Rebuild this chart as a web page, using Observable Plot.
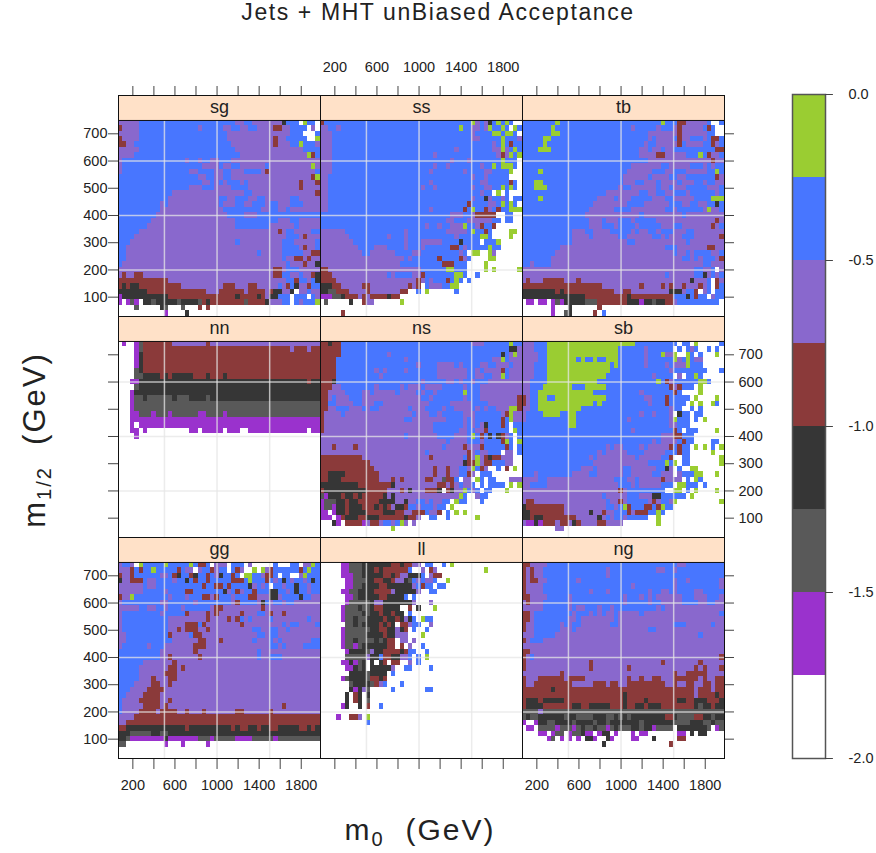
<!DOCTYPE html>
<html><head><meta charset="utf-8">
<script src="https://cdn.jsdelivr.net/npm/d3@7"></script>
<script src="https://cdn.jsdelivr.net/npm/@observablehq/plot@0.6"></script>
<style>
html,body{margin:0;padding:0;background:#fff}
#wrap{position:relative;width:876px;height:853px;overflow:hidden;font-family:"Liberation Sans",sans-serif;color:#222}
#wrap svg{position:absolute;top:0;max-width:none}
.t{position:absolute;white-space:nowrap}
#title{left:0;width:876px;text-align:center;top:-1px;font-size:23px;letter-spacing:1.6px}
#xl{left:0;width:840px;text-align:center;top:813px;font-size:30px;letter-spacing:2px}
#yl{left:35px;top:440px;font-size:31px;letter-spacing:2px;transform:translate(-50%,-50%) rotate(-90deg)}
sub{font-size:20px;vertical-align:-6px;line-height:0}
</style></head><body>
<div id="wrap">
<div class="t" id="title">Jets + MHT unBiased Acceptance</div>
<div class="t" id="xl">m<sub>0</sub>&nbsp; (GeV)</div>
<div class="t" id="yl">m<sub>1/2</sub>&nbsp; (GeV)</div>
</div>
<script>
const panelNames=[["sg","ss","tb"],["nn","ns","sb"],["gg","ll","ng"]];
const breaks=[-1.75,-1.5,-1.25,-1,-0.75,-0.5,-0.25];
const colours=["#ffffff","#9A32CD","#595959","#363636","#8B3A3A","#8968CD","#4876FF","#9ACD32"];
const legendEdges=[-2,-1.75,-1.5,-1.25,-1,-0.75,-0.5,-0.25,0];
const legendTicks=[-2,-1.5,-1,-0.5,0];
const levelValue={".":-1.875,p:-1.625,g:-1.375,k:-1.125,r:-0.875,v:-0.625,b:-0.375,y:-0.125};
const m0Ticks=[200,400,600,800,1000,1200,1400,1600,1800];
const m0Labels=[200,600,1000,1400,1800];
const m12Ticks=[100,200,300,400,500,600,700];
const m0Grid=[500,1000,1500];
const m12Grid=[200,400,600];
const m0First=80,m0Step=40,m12First=740,m12Step=20;

const sg=[
"vvvvvbbbbbbb bbbbbbbbbbbb bbbbvvbbvvvv vvvkbbb.ybb.",
"rvvvvbbbbbbb bbbbbbbvbbbb bvvbbvvbbvvv vrrvvbbbb.v.",
"vvvvvbbbbbbb bbbbbbbbbbbb bbvvvvvvvvvv vvvvvbbb...b",
"rvvvvbbbbbbb bbbbbbbbbbbb bbvvvvvvvvvv vrvvbbbbb..y",
"rrvvbbbbbbbb bbbbbbbbbbbb bbbvvvvvvvvv vrvvvbbybbbv",
"vvvvvbbbbbbb bbbbbbbbbbbb bbbbvvvvvvvv vvvvvvvvbbbb",
"vvvvbbbbbbbb bbbbbbbbbbbb bbbbbvvvvvvv vvvvvvvvvyrb",
"vbbbbbbbbbbb bbbbvbbvbbvv bbbvvvvvvvvv vvvvvvvvvvvv",
"vbbbbbbbbbbb bbbbbbbbvvvv bvvbbvvvvvvb vvvvvvvvvvyv",
"vbbbbbbbbbbb bbbbbvvbbbbv vbbvvvbbbbvr vvvvvvvvvvvb",
"bbbbbbbbbbbb bbbbbbbvvbbv vbbvvvvvvvvv vvvvvvvvvvry",
"bbbbbbbbbbbb bbbbbbbbvvbv bvbbbvbvvvvv vvvvvvvrvvvr",
"bbbbbbbbbbbb bbbbbvvvbbbv vvvbbbbvvvvv vvvvvvvrvvvv",
"bbbbbbbbbbbb bvvvvvvvvvvv vvvvvvbbvvvv vvvvvvvvvvvr",
"bbbbbbbbbbbb vvvvvvvvvvvv bbvvbbbvvbbv vvvvvbbvvvvv",
"bbbbbbbbbbvb vvvvvvvvvvvv bvvvbbvvbbbv bbvvvbbbvvvv",
"bbbbbbbbbbvv vvvvvvvvvvvv vbbbbbbbbbvv bbvvbvvvvvvv",
"bbbbbbbbbvvv vvvvvvvvvvvv vvbbbbvvvbbb bbbbbbbbbbbb",
"bbbbbbbbvvvv vvvvvvvvvvvv vvvvbbbbbbbb bbvvvbbvvvvv",
"bbbbbbbvvvvv vvvvvvvvvvvv vvvvbbbbbbbb vvvvvvbvvvvv",
"bbbbbvvvvvvv vvvvvvvvvvvv vvvvvvvvvvvv vvrvbbvvvvbb",
"bbbbvvvvvvvv vvvvvvvvvvvv vvvvvvvvvvvv vvvvbbbvrvvv",
"bbbvvvvvvvvv vvvvvvvvvvvv vvvvbvvvvvvv vvvbbbvvvvvb",
"bbvvvvvvvvvv vvvvvvvvvvvv vvvvvvvvvvvv vvvbbbbvrvvb",
"bbvvvvvvvvvv vvvvvvvvvvvv vvvvvvvvvbvv vvvbbbbbvvrr",
"bbvvvvvvvvvv vvvvvvvvvvvv vvvvvvvvvvvv vvvbvvrrvrvv",
"bvvvvvvvvvvv vvvvvvvvvvvv vvvvvvvvvvvv vvvvbvvvrvvk",
"vvvvvvvvvvvv vvvvvvvvvvvv vvvvvvvvvvvv vrrvbbbvvvvv",
"vrvvrrvvvvvv vvvvvvvvvvvv vvvvvvvvvvvv vrrbbvvbvvrk",
"rrrrrrrrrrrr vvvvvvvvvvvv vvvvvvvvvvvv vvvvbbrbbvbk",
"rkrkkrrrrrrr rrrvvvvvvvvv vrrrvvvrrvvv vvbvrbkvvrbb",
"kkkkkkkrrrrr rrrrrrrrrvvv rrrrrrvrrrrv rkkvvk.vvbvv",
"pkkkkkkkkkkk rrrrrrrrrrrr rrrrkrrrrkrv kkbbb.bbb.bv",
"p.pgp.kkgkkk kkgkkkkgrkrr rrrrrrgrrrrk vvvbb.bvbbby",
"....g.....kg ...g...r.r.. ............ ............",
"...........p ....k....... ............ ............"];

const ss=[
"rbbbbbbbbbbb bbbbbbbbbbbb bbbbbbbbbbbb yvbvkbybyb..",
"vvbbvbbbbbbb bbbbbbbbbbbb bbbbbbbbbybb vvbvybbyb.yb",
"vvvbbbbbbbbb bbbbbbbbbbbb bbbbbbbbbbbb vbbbbyybyyb.",
"vvvbbbbbbbbb bbbbbbbbbbbb bbbbbbbbbbbb vvbbbbbybbbv",
"vvvbbbbbbbbb bbbbbbbbbbbb bbbbbbbbbbbb bbbbbvbybrbb",
"vvvbbbbbbbbb bbbbbbbbbbbb bbbbbbbbvbbb bbbbbvvyvbyb",
"vvvbbbbbbbbb bbbbbbbbbbbb bbbvbbbbbbbb bbbbbbvrvyby",
"vvvbbbbbbbbb bbbbbbbbbbbb bbbbbbbvbbbv bbbbbbbybbb.",
"vvvbbbbbbbbb bbbbbbbbbbbb bbbvbbvbbbbb bbvbbybyyyb.",
"vvvbbbbbbbbb bbbbbbbbbbbb bbvbbbbbbbvb bbbvvbbbby..",
"vvbbbbbbbbbb bbbbbbbbbbbb bbbbbbbbbbbb vbbvbbbbb...",
"vvbbbbbbbbbb bbbbbbbbbbbb bbvbbbbbbbbb bbvvbbbbbrb.",
"vvbbbbbbbbbb bbbbbbbbbbbb vbbvbbbbbbbb vbbvvbbybyb.",
"vvbbbbbbbbbb bbbbbbbbbbbb bbbbbbbbbbbb bbvbb.y.b...",
"vvbbbbbbbbbb bbbbbbbbbbbb bbbbbbbbbbbb vbbkvbbvb.bb",
"vvbbbbbbbbbb bbbbbbbbbbbb bbbbbbbbbbbr bbbbvvbybyb.",
"vvbbbbbbbbbb bbbbbbbbbbbb bbvbbbbbbbrb ybbrvbrbbyyy",
"bbbbbbbbbbbb bbbbbbbbbbbb bbbbbbbvvvbb vrrrrr..bb..",
"bbbbbbbbbbbb bbbbbbbbbbbb bbbbbbvvbbbv vvvvvbb.bb..",
"bbbbbbbbbbbb bbbbbbbbbbbb bvbbvbbvvvyb bvrbbr......",
"vvvvvvbbbbbb bbbbbbbbvbbb bbbbbbvvvvvb ybbrb....yy.",
"vvvvvvvbbbbb bbbbvbbbvbbb bbbbbbbbvbbb bbyyb....y..",
"vvvvvvvvbbbb bbbbbbbbvbbb vvvvvbbbbkbb bb.bbby.....",
"vvvvvvvvvbbb bvvvbbbbvbbb vbbbbbbrrbvb bbbbybb.....",
"vvvvvvvvvvbb vvvvvvbbbbvv bbbbbbbbbvb. yy..yv......",
"vvvvvvvvvvvv vvvvvvvvbvbb bbbbrbbbbrvb ....yy......",
"vvvvvvvvvvvv vvvvvvvbbbbb bbbbbrrrbbb. ...y........",
"rrvvvvvvvvvv vvvvvvvvvvvv bbbbbbyybbb. ...y.y.....y",
"rrrvvvvvvvvv vvvvbvbbbbvv rbbbbbbbyyb. .b..........",
"rrrrvvvvvvvv vvvvvvvvvvvr vbvbbbrbyb.b ............",
"kkkrrvvvvvrr vvvvvvvvvrvr .bvvvbbyy... ............",
"kkggrrrvvvvr vvvvvvvrr..b .y......b... ............",
"pppggkrrrvrv rrrrkrr..... ............ ............",
".g.....k..rv v......y.... ............ ............",
"............ ............ ............ ............",
".....r...... ............ ............ ............"];

const tb=[
"bbbbbbbbybbb bbbbbbbbbbbb bbbbbbbbbybb brrvvvvvb..b",
"bbbbbbbybbbb bbbbbbbbbbbb bbvbbbbbvbbb vrvvvvvbrb..",
"bbbbbbbyybbb bbbbbbbbbbbb bbbbbbvvvvvv vrvvvvvvbb..",
"bbbbbyybbbbb bbbbbbbbbbbb bbbbbbvbvvvv brvvbbbvbrrb",
"bbbbbybbbbbb bbbbbbbbbbbb bbbbbvbbvvvv vrbvvvvbbrvb",
"bbbbyyybbbbb bbbbbbbbbbbb bbbbvvbvvbvv bbbbbbbbbbrr",
"bbbbbbbbbbbb bbbbbbbbbbbb bbbbvvvvrrvv vvvbbbybrvvb",
"bbbbbbbbbbbb bbbbbbbbbbbb bbbbbbvvvvvv vvvvvvvvvrvv",
"bbbbbbbbbbbb bbbbbbbbbbbb bbvvvvvvvbbv vvvvbbbvbvbb",
"bbbbybbbbbbb bbbbbbbbbbbb bvvvvvvbbbvv bbbvvvvvbbyb",
"bbbbbbbbbbbb bbbbbbbbbbbb vvvvvvbvvvvb bvvbbbbbbbrv",
"bbbyybbbbbbb bbbbbbbbbbbb vvvbbvvvbvvv vbvvvbbvbbvv",
"bbbyyybbbbbb bbbbbbbbbbbv bbvvvvvvbvvb vvvbbbbbvvvb",
"bbbbbbbbbbbb bbbbbbbbvvvv vvvvbbvvbbvv bbbvbbbbbbvb",
"bbbbybbbbbbb bbbbbbvvvvbv vvbbbbbvvvbb vvvvvbbbbyyy",
"bbbbbbbbbbbb bbbbbvvvvvvv vbbbbvvvvvvb bbvvbbvvbbkb",
"bbbbbbbbbbbb bbbbvvvvvvbb bbvvvvvvvvbb vbbbbbbvyvvb",
"bbbbbbbbbbbb bbbvvvvvvvvv vvvvbvvvvvvv vvbvvvvvvvvv",
"bbbbbbbbbbbb bbbbvvvbvvvb bbvbbbbbvvvv vvvvvvvvvvrv",
"bbbbbbbbbbbb bbbbvvvbbbvb bbbvbbbbbvvv bbvvvvvvvrvb",
"bbbbbbbbbbbb vvvbbvvvvbbb bbvbvvbbvbbb vvvbbvvvvvvv",
"bbbbbbbbbbbb vvvvbvvvvvvb bvvvvvvbbvbv vvbbbvvvvvvr",
"bbbbbbbbbbbb vvvvvvvvvvvv vbbvvvvvvvvv vvvbvvvvvvvv",
"bbbbbbbbbvvv vvvvvvvvvvvv vvvvvvvvvvbb bvvvvvvvrrvv",
"bbbbbbbbvvvv vvvvvvvvvvvv vvvvvvvvvvvv bvvbvbbbbvvb",
"bbbbbbbvvvvv vvvvvvvvvvvv vvvvvvvvvvvv vvbbvbvbbbvr",
"bbvbbbbvvvvv vvvvvvvvvvvv vvvvvvvvvvvv vvvvvvvbbvvv",
"vvvvvvvvvvvv vvvvvvvvvvvv vvvvvvvvvvvv vvvvvbbvvb.v",
"vvvvvvvvvvvv vvvvvvvvvvvv vvvvvvvvvvbv vvvvvbbkvbvb",
"vrvvvrrrrrvv vrvvvvvvvvvv vvvvvvvvvvvv vvvvkvvvb.rv",
"rrrrrrrrrrrr rrrrrrrvvvvv vvvvrvvvvrvr vvrvvvrvb.rb",
"kkkkkkkkrkrr rrrrrrrrrrvv rrvvvvvvvvvk kkvbbr.vb.bb",
"kkkkkkkkkkkk kkkrrrrrrrrr rkrrrrrrrrrr bbbkbrbb.vbb",
".pp.pp.pgpkk kkkgggrrrrrr rkkkpkkgkkrr vbbbbbbbbbb.",
".......p...k ......r..... ............ ............",
".......p..gk .....r.b.... ............ ............"];

const nn=[
".p..pgrrrrrr rvvvvvvvvrvv vvvvvvvvvvvv vvvvvvvvvvvv",
"....pgrrrrrr rrrrrrrrrrrr rrrrrrrrrrrr rrrrrvrrrvrr",
"....pkrrrrrr rrrrrrrrrrrr rrrrrrrrrrrr rrrrrrrrrrrr",
"....pkrrrrrr rrrrrrrrrrrr rrrrrrrrrrrr rrrrrrrrrrrr",
"....pkrrrrrr rrrrrrrrrrrr rrrrrrrrrrrr rrrrrrrrrrrr",
"....gkrrrrrr rrrrrrrrrrrr rrrrrrrrrrrr rrrrrrrrrrrr",
"....ggkkkkrk rkkkkkrrrkrr rkrrrrrrrrrr rrrrrrrrrrrr",
"...ppkkkkkkk kkkkkkkkkkkk kkkkkkkkkkkk kkkkkkkkkrkk",
"....gkkkkkkk kkkkkkkkkkkk kkkkkkkkkkkk kkkkkkkkkkkk",
"...pkkkkkkkk kkkkkkkkkkkk kkkkkkkkkkkk kkkkkkkkkkkk",
"...pggkggggg gkgggkkkkgkk kkkkkkkkkkkk kkkkkkkkkkkk",
"...pgggggggg gggggggggggg gggggggggggg gggggggggggg",
"...pgggggggg gggggggggggg gggggggggggg gggggggggggg",
"...ppgggpggg pggggggppggg gpgggggggggg gggggggggggg",
"...ppppppppp pppppppppppp pppppppppppp pppppppppppp",
"...p.ppppppp pppppppppppp pppppppppppp pppppppppppp",
"...pp.p..... .....pp.pppp p.ppp..ppppp ppppppppp.pp",
"....p....... ............ ............ ............",
"............","............","............","............","............","............",
"............","............","............","............","............","............",
"............","............","............","............","............","............"];

const ns=[
"rrkrrbbbbbbb bbbbbbbbbbbb bbbbbbbbbbbb vvvbbbbbbybb",
"rrrrrbbbbbbb bbbbbbbbbbbb bbbbbbbbbbbb bbbbbbbbbkkv",
"rrrrrbbbbbbb bbbbvbbbbbbb bbbbbbbbbbbb bbbbbbbkbvyv",
"rrrrbbbbbbbb bbbbbbbbvbbb bbbbbbbbbbbb bbbbbvvybvvv",
"rrrrbbbbbbbb bbbbbbbbbbbv bbbbvvvvbvbb bbvvbbvvvbvv",
"rrrrbbbbbbbb bvbvbbbbvbbb bbbbvvvvvvvb bvbvvvvrbvvv",
"rrrrbbbbbbbb bbvbbbbbbbbb bbbbvvvvvvvb bvvbbvvybvvv",
"rrrkbbbbbbbb bbbbbbbbbbbb vbbbbbvvbvbb vbbbvvvvvvvv",
"rrrvvbbbbbbb bvbbbbbvbvvv bvvvvbbbbbvb bbvvvvvvvvvv",
"rrvvvvbbbbvv bvvvvvbvvvvb vbbvbbbbbbyb bbvvvvvvvvvv",
"rrvbvvvbbbvv vvvvvvvvvvvv bbvbbbbbbbvb bbvvvvvvvvvr",
"rrbbvvvvbbvv vbbvvvvvvvvv vvbbbbbvvvvv bbbbvvvvvvvr",
"rrvvbbbvvvbv bbvvvvvvvbvv vbbbbvbbvvvv bvbvbbvvvyyr",
"rvvvvbvvvvvv vvvvvvvvvvbv vvbbvbbbbbvv vbbbbbbvryvv",
"rvvvvvvvvvvv vvvvvvvvbbvv vvvvvvbbbbvb vbbbbbbrbyvv",
"rvvvvvvvvvvv vvvvvvvvvvvv vvvbbbbbbbvb vbvkbbbrb.bb",
"rvvvvvvvvvvv vvvvvvvvvvvv vvvbbbbbbvvb bvvrbbbbb.yb",
"vvvvvvvvvvvv vvvvvvvvbvvv vvvvbbbbvvvb ybrbkbkrvb.b",
"vvvvvvvvvvvv vvvvvvvvvvvv vvvvvvbvvvvb bbvbbbbryb.y",
"vvvrvvvvrvvv vvvvvvvvvvvv vvvvvbvvvvrv vvrbbbbbrb.b",
"vvvvvvvvvvvv vvvvvvvvvvvv vbvvvvvvvvvr vbvvbbb.vv.b",
"rrrrrrrrrrvv vvvvvvvvvvvv vvrvvvvvvvbr vyvrkrrvvv..",
"rrrrrrrrrrrr vvvvvvvvvvvv vvvvvvvvvvkr ryvrrbbbvv..",
"rrrrrrrrrrrr rvvvvvvvvvvv vvvrvvrvvbbv ybrv..b.r.y.",
"rrkkkkrrrrrr rrvvvvvvvvvv vvvrvvrvvbbr v.bbb.......",
"rrkkkrrrrrrr rrvvvrvrvvvv vrrvvgrrb.vv .yb.bb...vvv",
"kkkkkkkkkrrr rrrrrkvvvvvv vvvvrrvrvbvv b.b.bbbb.y.y",
"rkkkkkkkkkkr rrrrvvvrvkvv vrrrk.rkvvyb vb.bb...y...",
"gpkkkrkkrkrr rrrkvkvvvvvv vvvvvvvvvyb. .vbb........",
"pgggkkrkkrrr rrkkkkvvkvvb bvbvvbb.ybb. ..b.........",
"pggpkkrkkkrr rkrkrvkkrbbv bbbvbb.y.... ............",
"pp.pkkrkkkkr rrrkkkrrvvrr rbvvr.b.y.y. ............",
"ppp.prkkkrrk kkrrrrrrkrrv ..bb..b..... .y..........",
"...kp.rrrrpv rrvbbvbyv.v. ............ ............",
"............ .....y...... ............ ............",
"............ ............ ............ ............"];

const sb=[
"vvvbbbyyyyyy yyyyyyyyyyyy yyybbbbbbbbb b.bb.y.....b",
"vvvbbbyyyyyy yyyyyyyyyyyb bbbbbvbbbbbb .b.bvb..b.b.",
"vvvvbbyyyyyy yyyyyyyyyyyb bbbbbvbbbyvv y..yb.b...y.",
"vvvvbbyyyyyy ybybbybbyyyb bbbbbvbbbbbb yvbybvv.....",
"vvvbbbyyyyyy yyyyyyyyybyb bbbbbvbbbbvb vvvybbb.....",
"vvvbbbyyyyyy yyyyyyyyybbb bbbbbbbbbbbv bbbbbbbb...b",
"vvvbbbyyyyyy yyyyyyyybbbb bbbbbbbvbbbb .v.bbyb.....",
"vvbbbbyyyyyy yyyyyybbbbbb bbbbbbbbybrv bbbbbbyyb...",
"vvbbbyyyyyyy bbbyyyyybbbb bbbbbbbbbbbr vrbbb.y.....",
"vvbbyyyyyyyy yyyyybbbbbbb bbbbvbbbbbbb rb....y.....",
"rvbbyybbyyyy yyyyyyyybbbb bbbbbvvbbbrb bbbb.y....y.",
"rvbbyyyyyyyy yyyyybybbbbb bbbbbbvbbbrb bbb.y.y..yb.",
"vvbbyyyyyyyy yybbbbbbbbbb bbbbbbbbbbbv bb..b.b.....",
"vbbbbyyyybby ybbbbbbbbbbb bbbbvbbvbbbv .kbb.bb.....",
"vbbbbbbbbbby ybbbbbbbbbbb bvbbbbbbbbbv ybbb.b.y....",
"bbbbbbbbbbby ybbbbbbbbbbb bbbbbbbbbbbv vbbb........",
"bbbbbbbbbbbb bbbbbbbbbbbb bbvbbbbbbbbb rb.bbb....y.",
"bbbbbbbbbbbb bbbbbbbbbbbb bbbbbbbbbvvv rrbbb.......",
"bbbbbbbbbbbb bbbbbbbbbbbb bbbbbbbvbvvv vbrbb....bb.",
"bbbbbbbbbbbb bbbbbbbbvbvv bbbbvbvvvvvr brbb.y.y.b.y",
"bbbbbbbbbbbb bbbbbbvbvvvv vbbbbvvvvvbb brbb.....y..",
"bbbbbbbbbbbb bbbbvbvvvvvv vvvbvvvvvbbr ..bb.......y",
"bbbbbbbbbbbb bbbbbvvvvvvv vvvvvvbbbbyb y.bb.......y",
"bbbbbbbbbbbb bbvvvbvvvvvv bbvvvvvvbbkv .b..yy......",
"bbbvbbbbbbbb vvvvbbvvvvvv bbvvvvvbbvvv .vbbbyy...y.",
"vvvvbbvvvvvv vvvvvvvvvvbb bvvbvvvvvrvv vv.b.yb.....",
"vvbbbbvvvvvv vvvvvvvvvvvb bbvbvvvvvbbb .yybbb.b....",
"vvvvvvvvvvvv vvvvvvvvvvvr vbbbbbbbbb.. yy.b.y....y.",
"vvvvvvvvvvvv vvvvvvvbvvvv vbbbvvvkkbbb bbb.y.......",
"vrrvvvvvvvvv vvvvvvvvbvvr vbbbbbvrvbbv y..........y",
"krrrrrrrrrvv vvvvvvvvbbvb yrbbbrrbrybb ............",
"kkrrrrrrrrvv vvvvkvvrvvbb brvrrrbbyb.. ............",
"kkrkkrrrrrrr rvvvvvkvbvbb vbbbbb..y... ............",
"vppkprrrvrrv krvvvvrrvvvv ........y... ............",
"........vv.. ............ ............ ............",
"............ ............ ............ ............"];

const gg=[
"vbbv.ybbbbby bbbbbybrrb.v vv.bbb.v.... .b...bb.vvyb",
"vvvrbrbbybbb bbrbvv.vbbrv bb.brv..y.yv rbbbbbbrbybb",
"rvvrbbbbbbvv brkbbrkbbrbv kbbrb.yybbvr rb.bb..vybbb",
"kvvrrrbvvbbb bvbbkbrbbrbb bbbrrrbybbbr bvbkbvbbvbkb",
"vvvvvvbvvbbb bbbbbbbbrbbr rbrbbbbkvbvb .bbvbbkbbvbb",
"vvvvvvbbbbbv bbbbrrbbbbbb bkvbrvbbrbbb kkbbvbkbbvbb",
"rvvybbbbbbbb vbbbvbbbrrvr bbbvbbbrrvvv kkvbbbbkbbvv",
"vbbbbbbbbbvv bbbbbbvbbbbb bbbvrbbbbvkb vbbvbbvvvvvv",
"vvvvvbbvvbbv bbbvbbbbbbvr rvvvvvvvvvrv vvvvvvvvvvvv",
"vbbbbbbbbbvb bbbbrvvvvrvr vvvvvrvvvbbv rvvrvvvvvvvv",
"vbbbbbbbbbbb vvvvvvvvvrvv vvrvrbvbvvvv bvvvvvvvvbvv",
"vbbbbbbbbbbb vvvvrrrbrvvv vvvvvrvvvvvv vvvbvbbvvvvb",
"vbbbbbbbbbbb vvrvrrrvvrvv vvvvvvvvbbvv bbvvbvvvvvvv",
"vvbbbbbbbbbb rvvvvbrrvvvv vvvvvvvvvbbv bbvvvvvvvvvv",
"vvbbbbbbbbbb bvvvvvvrrvvv rvvvvvvvbvvv bvbvvvvvvvbb",
"vbbbbbbvbbbv vvvvvvrrrvvv vvvvvvvvvvvv bbvbvvvvbbbb",
"bbbbbbbbbbvv vvvvvvrvvvvv vvvvvvvvvbvv vvvvvvvvvvvv",
"bbbbbbbbbbvv rvvvvvvrvvvv vvvvvvvvvbvv bbbvvvvvvvvv",
"bbbbbbvvvvvv vrvvvvvvvvvv vvvvvvvvvvvv vvvvvvvvvvvv",
"bbbbbvvvvvvv rrvrvvvvvvvv vvvvvvvvvvvv vvvvvvvvvvvv",
"bbbbbvvvvvvr rrvvvvvvvvvv vvvvvvvvvvvv vvvvvvvvvvvv",
"bbbbbvvvrvvv rrvvvvvvvvvv vvvvvvvvvvvv vvvvvvvvvvvv",
"bbbbvvvvrrvv rvvvvvvvvvvv vvvvvvvvvvvv vvvvvvvvvvvv",
"bbbvvvvrrrrv vvvvvvvvvvvv vvvvvvvvvvvv vvvvvvvvvvvv",
"bbvvvvrrrrvv vvvvvvvvvvvv vvvvvvvvvvvv vvvvvvvvvvvv",
"bvvvvrrrrrvv rvvvvvvvvvvv vvvvvvvvvvvv vvvvvvvvvvvv",
"bvvvvvrrrrvr vvvvvvvvvvvv vvvvvvvvvvvv vvvrvvvvvvvv",
"bvvvvrrrrvrr rrvvrvvvrvvv vvvvrrvvvvvv rvvvvvvvvvvv",
"vvvvrrrrrrrr rrrrrrrrrrrr rrrrrrrrrrrr rrrrrrrrrrrr",
"vvrrrrrrrrrr rrrrrrrrrrrr rrrrrrrrrrrr rrrrrrrrrrrr",
"rrkkkkkkkkkk kkkkrkkkkkkk kkkrkrrkkrkk rrkkkkkrrkrk",
"kkkgggggkkgg kkkkkkkkkkkk kkkkkkkkkkkk kkkkkkkkkkkk",
"kkgppppppppk pppppppgggpg ggggppppgggg gpgggggggggg",
"gg.........p ...p.....p.. ............ ............",
"............ ............ ............ ............",
"............ ............ ............ ............"];

const ll=[
".....ppgggkk kkkkkrrkrrvv .bb..b.y.... ............",
".....ppgggkk krkrrrrrrb.. v.rv........ ...y........",
".....pppggkk kkkrrkrvvkkk b.vrr....... ............",
"......ppgggk krrkkrvvkgbv bvvb..y..... ............",
"......ppggkk kkrrkkkkkkvb rbb.bb...... ............",
".....ppggkkk krrrrvkkkkkv ..bb........ ............",
"......ppgkkk kkrrkkkkb.b. ............ ............",
"......pggggg kvvkkkkkkkv. ..v......... ............",
".....pgggkgg krrkkkk..r.k ...y........ ............",
".....pggggkg kkrkkrkk.b.. ............ ............",
".....pggkggk kkkrkkrkvkb. ybb......... ............",
"......ggkgkk kkrkrk.rrvbb ..v......... ............",
".....pgggggg kkrrkkvkr.b. .b.......... ............",
".....pgggggk kkkrkkvvv... y........... ............",
".....pggkggg gkgkrr.vv.v. ............ ............",
".....pggpgkk kkkkrr.r.v.. b........... ............",
"......pkkkkg vkkrrrrkrbb. .b.......... ............",
"......gggggv kkbrrkkvvb.b .y.......... ............",
".....ppkpgk. k.kr.rr..v.b ............ ............",
"......ppkgk. kkkkkv..bb.. ..b......... ............",
".......kkkkg kkkk.b...... ............ ............",
".....pgkkkkg rrkr........ ............ ............",
".......gkkkk grvb...b.... ............ ............",
".......kpkvg .....b...... .bb......... ............",
"......k.rk.k ............ ............ ............",
"......k.rk.g ............ ............ ............",
".....pk..k.r ..b......... ............ ............",
"............ ............ ............ ............",
"....p..rrv.y ............ ............ ............",
"...........b ............ ............ ............",
"............","............","............","............","............","............"];

const ng=[
"rrvvvvbbbbbb bbbbbbbbbbbb bbbbbbbbbbbb bvvbbbbbbbbb",
"rvrvvbbbbbbb bbbbbbbbvbbb bbbbbbbbvvbb vbbbbbbbbbbb",
"rvrvvbbbbbbb bbbbbbbbvbbb bbbbbbbbbbbb bbbbbbbbbbbb",
"rvrrvvbbbbbb bvbbbbbbbbbb bbbbbbbbbbbb vbbvbbbbbbbv",
"rvvvvbbbbbbb bbbbbbbbbbbb bbvbbbbbbbbb vbbbbbbbbbbv",
"rvvvvbbbbbbb bbbbvbbbvbbb bbbbbbvbbvvb vbbbbvvbbbbb",
"rrvvvvbbbbbv bbbbbbbbbbbb vbbbvbvbvvvv vvbbbvvvbbbv",
"vrvvvbbbbbbv bbbbbbbbbbbb vbbbbbvbbvvv vvbbbbvvbbvv",
"vvvvvbbbbbbv bvvbbbvbbvbb bbbbbbbbvbvv vvvvvvvvvvvv",
"rrvbbbbbbbbb vbbbvbvbvvbv vvvvbvvvvvvv vvvvvvvvvvvb",
"rrvbbbbbbbbv vbvvvvvvvvbv vvvvvvvvvvvv vvvvvvvvvvvv",
"rvvbbbbbbvbv bbvvvvvvvbbv vvvvvvvvvvvv bbbvvvvvvbvv",
"rvvbbbbbbvvv bvvvvvvvvvvv vvvvvvbbvvvv vvvvvvvvvvvv",
"vvvbbbbbvvvv vvvvvvvvvvvv vvvvvvvvvvvv vvvvvvbvvvvv",
"rvbbbvvvvvvv vvvvvvvvvvvv vvvvvvvvvvvv vvvvvvvvvvvv",
"vvvvvvvvvvvv vvvvvvvvvvvv vvvvvvvvvvvv vvvvvvvvvvvv",
"rrvvvvvvvvvv vvvvvvvvvvvv vvvvvvvvvvvv vvvvvvvvvvvv",
"rvbvvvvvvvvv vvvvvvvvvvvv vvvvvvvvvvvv vvvvvvvvvvvr",
"rvvvvvvvvvvv vvvvrvvvvvvv vvvvvvvvvrvv vvvvvvrvvvvv",
"rvvvvvvvvvvv vvvvrvvvvvvv vrvvvvvvvvvv vvvvvrvrvvvr",
"vvvvvvvvvrvv vvvvvvvvvvvv vvvvvvvvvvvv rvvrrrrrvvvv",
"rvvvrrrrrrvr rrrvvvvvvvvv vrvvrvvrrvvv rrrrrrvrvvrr",
"rvvrrrrrrrrr vvvvvrrrvrrv vrrrrrrrrrvv rvvrrvvrrvrr",
"rrrrrrrkrrrr rrrrrrrrrrrr rrrrrrrrrrrr rrrrrvrrrvrr",
"rrrrrrrrrrrr rrrrrrrrrrrr krrrrrrrrrrr rrrrrvrrrrkr",
"rkkkrkkkkkrr rrrrrrrrrrrr krrrrkrrrrrr rkkrrkkkrrrk",
"rkkkkrrrrrrr kkrrkkkkkrrr krrkkrkkkrrr rrrrrkgkkrkk",
"ggggvggggggg gggggggggggg gggggggggggg gggggggggggg",
"gkggkkkkkkgk kggggkkkggkg kgkkkkkkkkrr kggggrrkkgkk",
"p..pkkggkkkk gkkkkgkkgkkk kkkkgkkkkkkk ggggkkkggkgg",
".pp.ggggpggg pgkggkggpgkg ggkkgkkpgggg .kkkkkkkg.pg",
"....pp.pgg.p ggkpp.pkk.p. ..p.pp...... .pp.k.kk....",
"......pg.p.p .p.kkp..kp.. ..pp...k.... .rr.........",
"............ .......k.... ...........r ............",
"............ ............ ............ ............",
"............ ............ ............ ............"];

const panels={sg,ss,tb,nn,ns,sb,gg,ll,ng};
const cells=[];
panelNames.forEach((names,fy)=>names.forEach((name,fx)=>{
  panels[name].forEach((row,r)=>{
    const s=row.replace(/\s/g,"").padEnd(48,".").slice(0,48);
    for(let i=0;i<48;i++){
      const m0=m0First+m0Step*i, m12=m12First-m12Step*r;
      cells.push({fx,fy,m0l:m0-m0Step/2,m0r:m0+m0Step/2,m12b:m12-m12Step/2,m12t:m12+m12Step/2,value:levelValue[s[i]]});
    }
  });
}));

const xMin=63.6,xMax=1983,yMin=29,yPanel=749,yMax=840.7;
const pxX=0.10525,pxY=0.2723;
const strips=panelNames.flatMap((names,fy)=>names.map((name,fx)=>({fx,fy,name})));
const cols=[0,1,2],rows=[0,1,2];
const tickStroke="#444";

const topTicks=cols.flatMap(fx=>m0Ticks.map(m=>({fx,fy:0,m})));
const botTicks=cols.flatMap(fx=>m0Ticks.map(m=>({fx,fy:2,m})));
const leftTicks=rows.flatMap(fy=>m12Ticks.map(m=>({fx:0,fy,m})));
const rightTicks=rows.flatMap(fy=>m12Ticks.map(m=>({fx:2,fy,m})));
const lblStyle={fontSize:14.5,fontFamily:"Liberation Sans",fill:"#222",letterSpacing:"1.5px"};
const asText=d=>String(d.m);

const chart=Plot.plot({
  width:876,height:853,marginLeft:118,marginRight:152,marginTop:95,marginBottom:95,
  style:{background:"none",overflow:"visible"},
  x:{domain:[xMin,xMax],axis:null},
  y:{domain:[yMin,yMax],axis:null},
  fx:{domain:cols,padding:0,axis:null},
  fy:{domain:rows,padding:0,axis:null},
  color:{type:"threshold",domain:breaks,range:colours},
  marks:[
    Plot.rect(cells,{fx:"fx",fy:"fy",x1:"m0l",x2:"m0r",y1:"m12b",y2:"m12t",fill:"value",shapeRendering:"crispEdges"}),
    Plot.ruleX(m0Grid,{y1:yMin,y2:yPanel,stroke:"#e6e6e6",strokeOpacity:0.75,strokeWidth:1.5}),
    Plot.ruleY(m12Grid,{x1:xMin,x2:xMax,stroke:"#e6e6e6",strokeOpacity:0.75,strokeWidth:1.5}),
    Plot.rect(strips,{fx:"fx",fy:"fy",x1:xMin,x2:xMax,y1:yPanel,y2:yMax,fill:"#FFE1C8",stroke:"none"}),
    Plot.text(strips,{fx:"fx",fy:"fy",x:(xMin+xMax)/2,y:(yPanel+yMax)/2+2,text:"name",fontSize:18,fontFamily:"Liberation Sans",fill:"#222",letterSpacing:"1px"}),
    Plot.ruleY([yPanel],{x1:xMin,x2:xMax,stroke:"#111"}),
    Plot.ruleX(topTicks,{fx:"fx",fy:"fy",x:"m",y1:yMax,y2:yMax+9/pxY,stroke:tickStroke}),
    Plot.ruleX(botTicks,{fx:"fx",fy:"fy",x:"m",y1:yMin,y2:yMin-11/pxY,stroke:tickStroke}),
    Plot.ruleY(leftTicks,{fx:"fx",fy:"fy",y:"m",x1:xMin,x2:xMin-10/pxX,stroke:tickStroke}),
    Plot.ruleY(rightTicks,{fx:"fx",fy:"fy",y:"m",x1:xMax,x2:xMax+10/pxX,stroke:tickStroke}),
    Plot.text(m0Labels.map(m=>({m,fx:1,fy:0})),{fx:"fx",fy:"fy",x:"m",y:yMax,dy:-28,text:asText,...lblStyle}),
    Plot.text([0,2].flatMap(fx=>m0Labels.map(m=>({m,fx,fy:2}))),{fx:"fx",fy:"fy",x:"m",y:yMin,dy:27,text:asText,...lblStyle}),
    Plot.text([0,2].flatMap(fy=>m12Ticks.map(m=>({m,fx:0,fy}))),{fx:"fx",fy:"fy",x:xMin,y:"m",dx:-11,textAnchor:"end",text:asText,...lblStyle}),
    Plot.text(m12Ticks.map(m=>({m,fx:2,fy:1})),{fx:"fx",fy:"fy",x:xMax,y:"m",dx:14,textAnchor:"start",text:asText,...lblStyle}),
    Plot.frame({stroke:"#111",strokeWidth:1})
  ]
});

const legendCells=d3.pairs(legendEdges).map(([a,b])=>({a,b,mid:(a+b)/2}));
const key=Plot.plot({
  width:84,height:853,marginLeft:0,marginRight:51,marginTop:94,marginBottom:95,
  style:{background:"none",overflow:"visible"},
  x:{domain:[0,1],axis:null},
  y:{domain:[-2,0],axis:null},
  color:{type:"threshold",domain:breaks,range:colours},
  marks:[
    Plot.rect(legendCells,{x1:0,x2:1,y1:"a",y2:"b",fill:"mid",shapeRendering:"crispEdges"}),
    Plot.frame({stroke:"#555",strokeWidth:1.5}),
    Plot.ruleY(legendTicks,{x1:1,x2:1.24,stroke:"#444"}),
    Plot.text(legendTicks,{x:1,y:d=>d,dx:23,textAnchor:"start",text:d=>d.toFixed(1),...lblStyle})
  ]
});
key.style.left="792px";
const wrap=document.getElementById("wrap");
wrap.appendChild(chart);
wrap.appendChild(key);
</script>
</body></html>
